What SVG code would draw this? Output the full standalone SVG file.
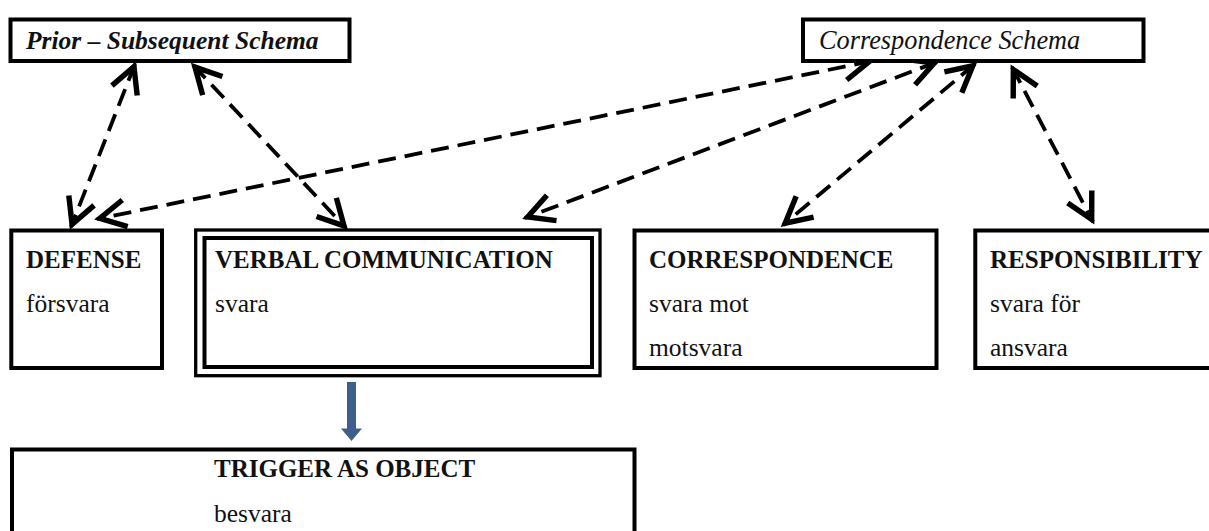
<svg xmlns="http://www.w3.org/2000/svg" width="1209" height="531" viewBox="0 0 1209 531">
  <defs>
    <style>
      .box { fill: #fff; stroke: #000; stroke-width: 4; }
      .thin { fill: none; stroke: #000; stroke-width: 3.3; }
      .lbl { font-family: "Liberation Serif", "Times New Roman", serif; fill: #111; }
      .head { font-size: 25px; font-weight: bold; }
      .body { font-size: 25.5px; }
      .schema-b { font-size: 25.5px; font-weight: bold; font-style: italic; }
      .schema-i { font-size: 26.3px; font-style: italic; }
      .link { fill: none; stroke: #000; stroke-width: 3.8; stroke-dasharray: 18 9; marker-start: url(#chev); marker-end: url(#chev); }
    </style>
    <marker id="chev" markerUnits="userSpaceOnUse" markerWidth="40" markerHeight="40" viewBox="-24 -14 28 28" refX="0" refY="0" orient="auto-start-reverse" overflow="visible">
      <path d="M-20,-9.5 L-2,0 L-20,9.5" fill="none" stroke="#000" stroke-width="3.8" stroke-linejoin="miter"/>
    </marker>
  </defs>

  <rect width="1209" height="531" fill="#fff"/>

  <!-- dashed two-way links between schemas and senses -->
  <g id="connectors">
    <line class="link" x1="135" y1="64" x2="71" y2="227"/>
    <line class="link" x1="193" y1="65" x2="346" y2="228"/>
    <line class="link" x1="872" y1="61" x2="97" y2="219"/>
    <line class="link" x1="937" y1="62" x2="525" y2="218"/>
    <line class="link" x1="975" y1="64" x2="783" y2="225"/>
    <line class="link" x1="1012" y1="67" x2="1093" y2="222"/>
    <!-- solid blue arrow down to the object sense -->
    <polygon points="347,382 356,382 356,428.5 362,428.5 351.5,441 341,428.5 347,428.5" fill="#3E5F8C"/>
  </g>

  <g id="prior-subsequent-schema">
    <rect class="box" x="10.5" y="19.5" width="339" height="41.5"/>
    <text class="lbl schema-b" x="26" y="48.5">Prior – Subsequent Schema</text>
  </g>

  <g id="correspondence-schema">
    <rect class="box" x="803" y="19.5" width="340.5" height="41.5"/>
    <text class="lbl schema-i" x="819" y="48.5">Correspondence Schema</text>
  </g>

  <g id="defense">
    <rect class="box" x="11.3" y="230.5" width="150.7" height="137.5"/>
    <text class="lbl head" x="26" y="268">DEFENSE</text>
    <text class="lbl body" x="26" y="312">försvara</text>
  </g>

  <g id="verbal-communication">
    <rect class="thin" x="195.7" y="230" width="404.3" height="145.7"/>
    <rect class="box" x="204.5" y="238" width="387.5" height="129"/>
    <text class="lbl head" x="215" y="268">VERBAL COMMUNICATION</text>
    <text class="lbl body" x="215" y="312">svara</text>
  </g>

  <g id="correspondence">
    <rect class="box" x="634.5" y="230.5" width="302" height="137.5"/>
    <text class="lbl head" x="649" y="268">CORRESPONDENCE</text>
    <text class="lbl body" x="649" y="312">svara mot</text>
    <text class="lbl body" x="649" y="356">motsvara</text>
  </g>

  <g id="responsibility">
    <rect class="box" x="975.3" y="230.5" width="240" height="137.5"/>
    <text class="lbl head" x="990" y="268">RESPONSIBILITY</text>
    <text class="lbl body" x="990" y="312">svara för</text>
    <text class="lbl body" x="990" y="356">ansvara</text>
  </g>

  <g id="trigger-as-object">
    <rect class="box" x="12" y="449.5" width="622.5" height="90"/>
    <text class="lbl head" x="214" y="477">TRIGGER AS OBJECT</text>
    <text class="lbl body" x="214" y="522">besvara</text>
  </g>
</svg>
